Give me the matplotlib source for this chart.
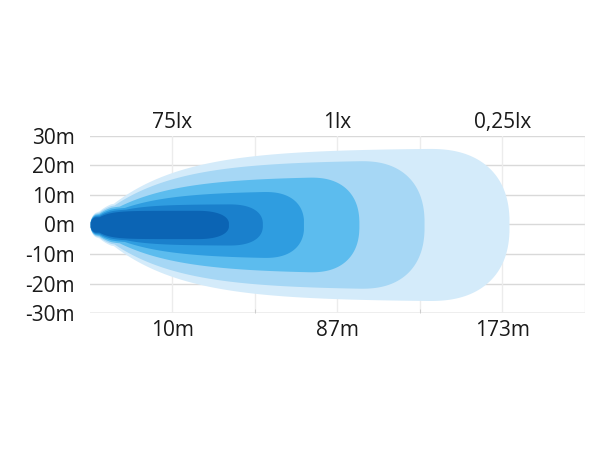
import matplotlib.pyplot as plt
import numpy as np

plt.rcParams['font.family'] = ['Open Sans', 'DejaVu Sans']

# light zones, from brightest core to faintest edge
zone_length = [1.68, 2.09, 2.59, 3.26, 4.05, 5.08]   # reach, in grid columns
zone_width = [4.8, 7.0, 11.5, 16.5, 22.0, 26.0]     # half width, m
zone_rise = [0.14, 0.32, 0.6, 0.75, 0.82, 0.88]
zone_round = [0.4, 0.42, 0.5, 0.62, 0.8, 1.0]
zone_colors = ['#0b64b4', '#1a80cc', '#2f9de0', '#5cbcee', '#a6d7f5', '#d4ebfa']

y_ticks = [30, 20, 10, 0, -10, -20, -30]
y_labels = ['30m', '20m', '10m', '0m', '-10m', '-20m', '-30m']
dist_pos = [1, 3, 5]
dist_labels = ['10m', '87m', '173m']
lux_labels = ['75lx', '1lx', '0,25lx']

xg = np.linspace(0, 6, 2000)


def profile(length, width, k, r):
    y = width * (1 - np.exp(-xg / k))
    # blunt round nose at the lamp
    b = 0.07
    a = min(width * 0.6, 2.6)
    nose = a * np.sqrt(1 - (1 - np.clip(xg / b, 0, 1)) ** 2)
    y = np.maximum(y, nose)
    x0 = length - r
    t = np.clip((xg - x0) / r, 0, 1)
    y = y * (1 - t ** 2.4) ** (1 / 2.4)
    y[xg > length] = 0
    return y


# each zone keeps a thin rim around the one inside it
rim = 0.6 * np.sqrt(np.clip(xg / 0.25, 0, 1))
profiles = []
for i in range(6):
    y = profile(zone_length[i], zone_width[i], zone_rise[i], zone_round[i])
    if i > 0:
        inner = profiles[-1]
        y = np.maximum(y, np.where(inner > 0, inner + rim, 0))
    profiles.append(y)

fig = plt.figure(figsize=(6.1, 4.5), dpi=100)
ax = fig.add_axes([0.1475, 0.3044, 0.959 - 0.1475, 0.698 - 0.3044])

for i in range(5, -1, -1):
    ax.fill_between(xg, -profiles[i], profiles[i], where=profiles[i] > 0,
                    color=zone_colors[i], lw=0, zorder=2 + (5 - i))

for v in y_ticks:
    ax.axhline(v, color='#d9d9d9', lw=1, zorder=1)
ax.axhline(-30, color='#cccccc', lw=1, zorder=1)
for v in range(1, 7):
    ax.axvline(v, color='#ececec', lw=1, zorder=1)

ax.set_xlim(0, 6)
ax.set_ylim(-30, 30)
for s in ax.spines.values():
    s.set_visible(False)

ax.set_yticks(y_ticks)
ax.set_yticklabels(y_labels, fontsize=15, color='#1a1a1a')
ax.tick_params(axis='y', length=0, pad=11)
ax.set_xticks(dist_pos)
ax.set_xticklabels(dist_labels, fontsize=15, color='#1a1a1a')
ax.tick_params(axis='x', length=0, pad=5)
ax.set_xticks(range(1, 6), minor=True)
ax.tick_params(axis='x', which='minor', direction='in', length=3, color='#c8c8c8')

top = ax.secondary_xaxis('top')
top.set_xticks(dist_pos)
top.set_xticklabels(lux_labels, fontsize=15, color='#1a1a1a')
top.tick_params(length=0, pad=2)
top.spines['top'].set_visible(False)

fig.savefig('out.png', dpi=100)
